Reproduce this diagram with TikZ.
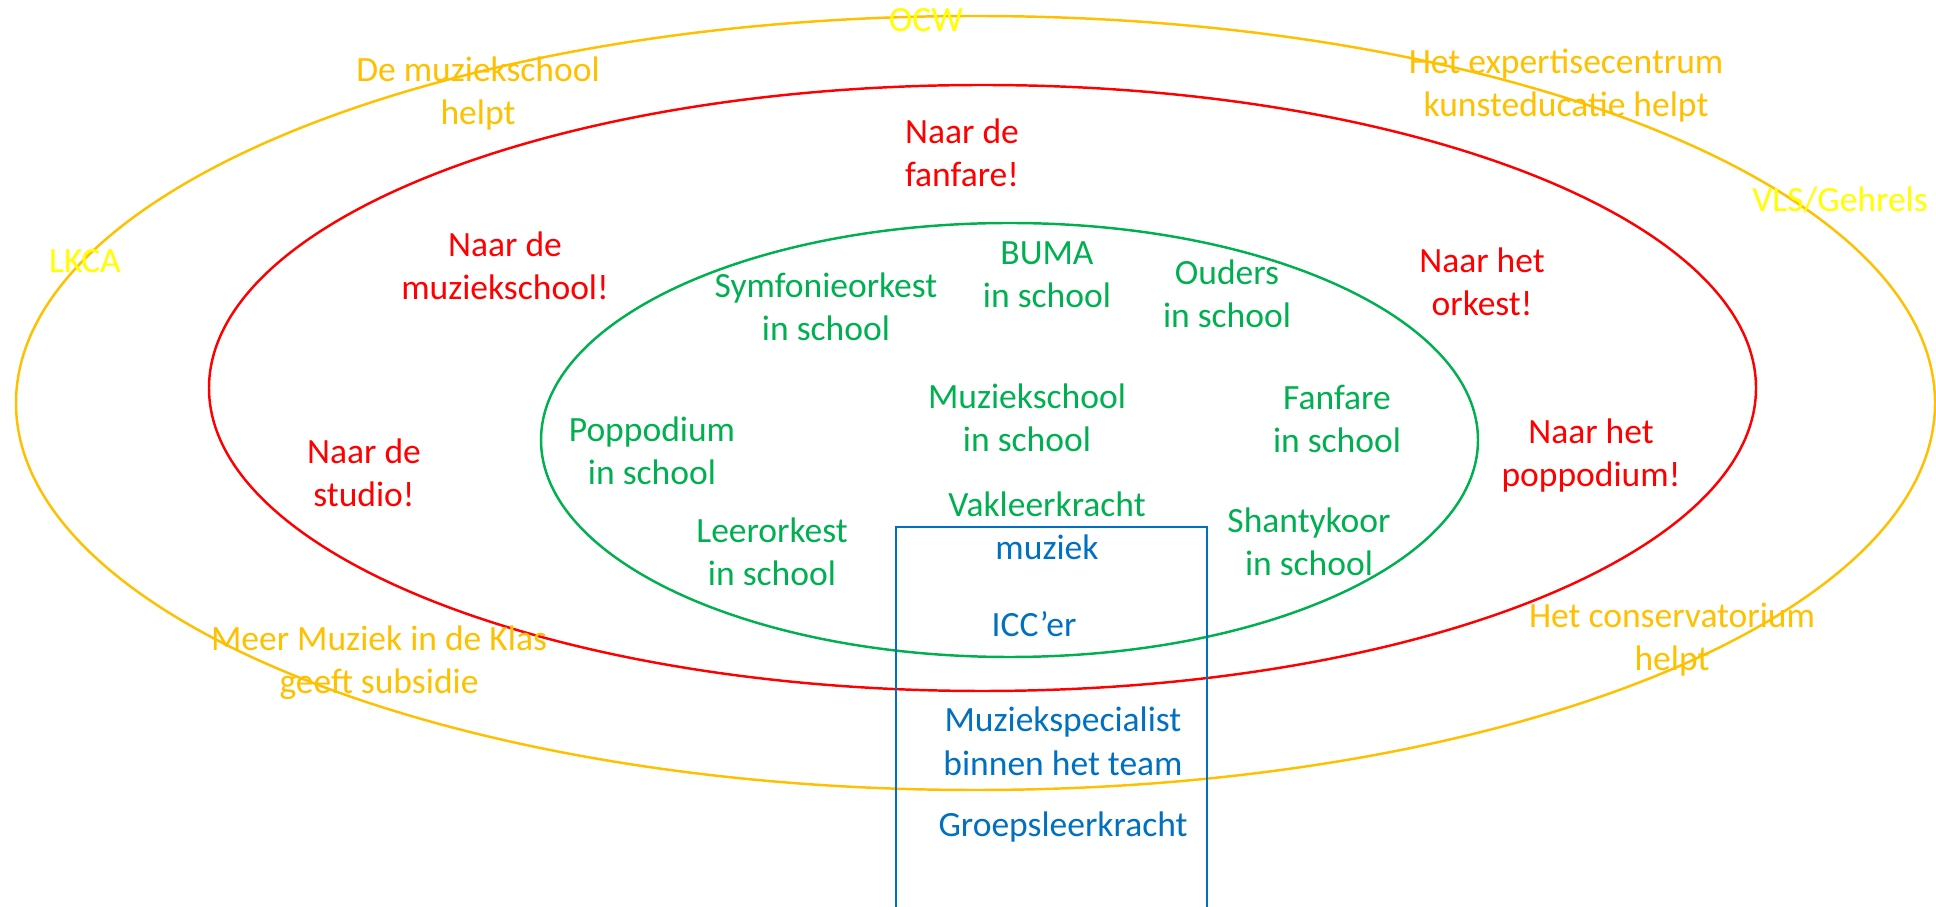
\documentclass[tikz,border=0pt]{standalone}
\usepackage{fontspec}
\setmainfont{Carlito}
\usepackage{tikz}
\definecolor{ringgold}{HTML}{FFC000}
\definecolor{fluoyellow}{HTML}{FFFF00}
\definecolor{ringred}{HTML}{FF0000}
\definecolor{ringgreen}{HTML}{00B050}
\definecolor{teamblue}{HTML}{0070C0}
\newcommand{\lblfont}{\fontsize{10.1}{12.23}\selectfont}
\begin{document}
\begin{tikzpicture}[x=0.01cm, y=-0.01cm,
		lbl/.style={align=center, anchor=base, font=\lblfont, inner sep=0pt},
		ring/.style={line width=0.7pt}]
	\useasboundingbox (0, 0) rectangle (1936, 907);
	\clip (0, 0) rectangle (1936, 907);
	\node[anchor=base, font=\fontsize{18}{20}\bfseries\selectfont, inner sep=0pt] (topen) at (632, -9) {(};
	\node[anchor=base, font=\fontsize{18}{20}\bfseries\selectfont, inner sep=0pt] (tclose) at (1305, -9) {)};
	\draw[ring, ringgold] (975.5, 403) ellipse [x radius=959.5, y radius=387];
	\draw[ring, ringred] (982.5, 388) ellipse [x radius=773.5, y radius=303];
	\draw[ring, ringgreen] (1009.5, 440) ellipse [x radius=468.5, y radius=217];
	\draw[line width=0.6pt, teamblue] (896, 527) rectangle (1207, 940);
	\node[lbl, text=fluoyellow] (ocw) at (926, 32) {OCW};
	\node[lbl, text=fluoyellow] (lkca) at (85, 273) {LKCA};
	\node[lbl, text=fluoyellow] (vls) at (1840, 212) {VLS/Gehrels};
	\node[lbl, text=ringgold] (mshelp) at (478, 125) {De muziekschool\\helpt};
	\node[lbl, text=ringgold] (ekhelp) at (1566, 117) {Het expertisecentrum\\kunsteducatie helpt};
	\node[lbl, text=ringgold] (mmidk) at (379, 694) {Meer Muziek in de Klas\\geeft subsidie};
	\node[lbl, text=ringgold] (conshelp) at (1672, 671) {Het conservatorium\\helpt};
	\node[lbl, text=ringred] (nfanf) at (962, 187) {Naar de\\fanfare!};
	\node[lbl, text=ringred] (nmsch) at (505, 300) {Naar de\\muziekschool!};
	\node[lbl, text=ringred] (nork) at (1482, 316) {Naar het\\orkest!};
	\node[lbl, text=ringred] (nstud) at (364, 507) {Naar de\\studio!};
	\node[lbl, text=ringred] (npop) at (1591, 487) {Naar het\\poppodium!};
	\node[lbl, text=ringgreen] (symf) at (826, 341) {Symfonieorkest\\in school};
	\node[lbl, text=ringgreen] (buma) at (1047, 308) {BUMA\\in school};
	\node[lbl, text=ringgreen] (ouders) at (1227, 328) {Ouders\\in school};
	\node[lbl, text=ringgreen] (msch) at (1027, 452) {Muziekschool\\in school};
	\node[lbl, text=ringgreen] (pop) at (652, 485) {Poppodium\\in school};
	\node[lbl, text=ringgreen] (fanf) at (1337, 453) {Fanfare\\in school};
	\node[lbl, text=ringgreen] (leer) at (772, 586) {Leerorkest\\in school};
	\node[lbl, text=ringgreen] (shanty) at (1309, 576) {Shantykoor\\in school};
	\node[lbl, text=teamblue] (vak) at (1047, 560) {\textcolor{ringgreen}{Vakleerkracht}\\muziek};
	\node[lbl, text=teamblue] (icc) at (1034, 637) {ICC’er};
	\node[lbl, text=teamblue] (spec) at (1063, 775) {Muziekspecialist\\binnen het team};
	\node[lbl, text=teamblue] (groep) at (1063, 837) {Groepsleerkracht};
\end{tikzpicture}
\end{document}
